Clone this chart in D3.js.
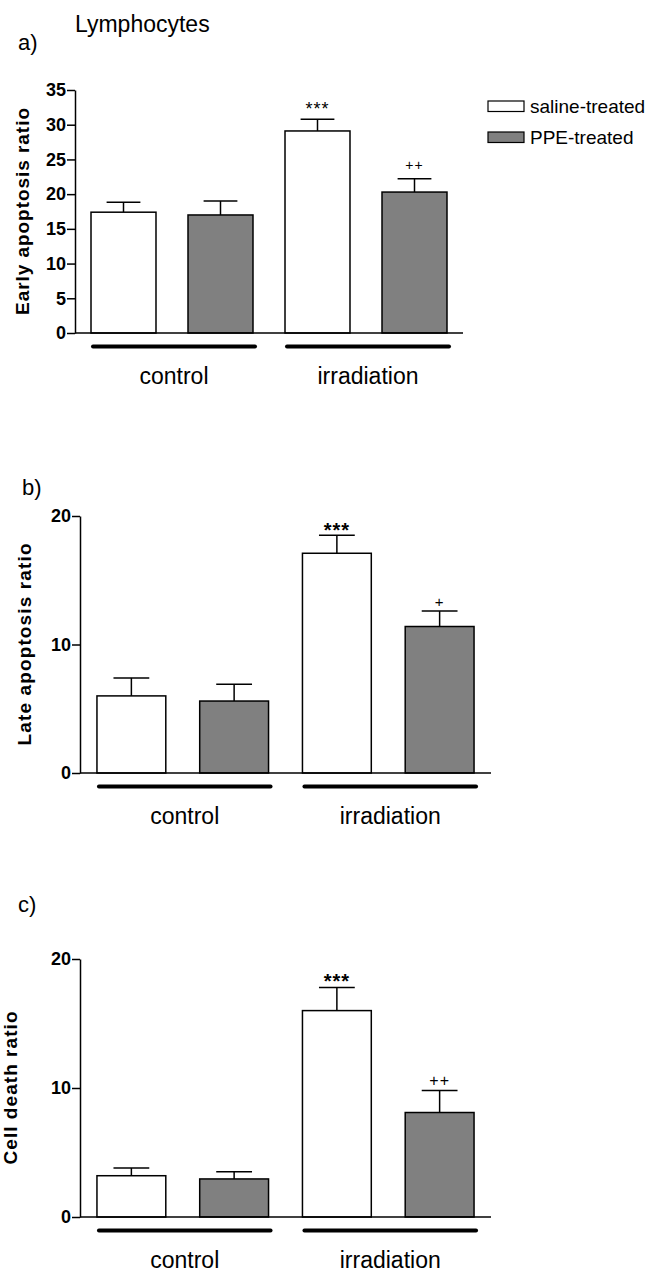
<!DOCTYPE html>
<html>
<head>
<meta charset="utf-8">
<script src="https://cdn.jsdelivr.net/npm/d3@7"></script>
<style>
  body { margin: 0; background: #fff; }
  svg text { font-family: "Liberation Sans", Arial, sans-serif; fill: #000; }
</style>
</head>
<body>
<div id="chart"></div>
<script>
// data
const groups = ["control", "irradiation"];
const treatments = ["saline-treated", "PPE-treated"];
const bars = ["control|saline", "control|PPE", "irradiation|saline", "irradiation|PPE"];

const earlyMean = [17.4, 17.0, 29.1, 20.3];
const earlyErr = [1.45, 2.0, 1.7, 1.9];
const earlySig = ["", "", "***", "++"];
const earlyTicks = [0, 5, 10, 15, 20, 25, 30, 35];

const lateMean = [6.0, 5.6, 17.1, 11.4];
const lateErr = [1.4, 1.3, 1.4, 1.2];
const lateSig = ["", "", "***", "+"];
const lateTicks = [0, 10, 20];

const deathMean = [3.2, 2.95, 16.0, 8.1];
const deathErr = [0.6, 0.55, 1.8, 1.7];
const deathSig = ["", "", "***", "++"];
const deathTicks = [0, 10, 20];

const W = 661, H = 1273;
const fills = ["#ffffff", "#808080"];

const svg = d3.select("#chart").append("svg")
    .attr("width", W)
    .attr("height", H);

svg.append("text")
    .attr("x", 75).attr("y", 32)
    .style("font-size", "23px")
    .text("Lymphocytes");

function drawPanel(p) {
    let g = svg.append("g");

    let y = d3.scaleLinear().domain([0, d3.max(p.ticks)]).range([p.y0, p.y1]);
    let x = d3.scaleBand().domain(bars).range([p.x0, p.x1])
        .paddingInner(0.33).paddingOuter(0.165);
    let bw = x.bandwidth();

    g.append("text")
        .attr("x", p.tagX).attr("y", p.tagY)
        .style("font-size", "22px")
        .text(p.tag);

    // y axis
    let ax = g.append("g")
        .attr("transform", `translate(${p.x0},0)`)
        .call(d3.axisLeft(y).tickValues(p.ticks).tickSize(8).tickSizeOuter(0).tickPadding(1));
    ax.select(".domain").attr("stroke", "#000").attr("stroke-width", 1.5);
    ax.selectAll(".tick line").attr("stroke", "#000").attr("stroke-width", 1.5);
    ax.selectAll(".tick text")
        .style("font-size", "18px")
        .style("font-weight", "bold")
        .attr("fill", "#000");

    g.append("text")
        .attr("transform", `translate(${p.labX},${(p.y0 + p.y1) / 2}) rotate(-90)`)
        .attr("text-anchor", "middle")
        .attr("textLength", p.labLen)
        .attr("lengthAdjust", "spacing")
        .style("font-size", "19px")
        .style("font-weight", "bold")
        .text(p.label);

    // error bars (upper only)
    let err = g.selectAll(".err").data(bars).enter().append("g");
    err.append("line")
        .attr("x1", d => x(d) + bw / 2).attr("x2", d => x(d) + bw / 2)
        .attr("y1", (d, i) => y(p.mean[i]))
        .attr("y2", (d, i) => y(p.mean[i] + p.err[i]))
        .attr("stroke", "#000").attr("stroke-width", 1.5);
    err.append("line")
        .attr("x1", d => x(d) + bw * 0.24).attr("x2", d => x(d) + bw * 0.76)
        .attr("y1", (d, i) => y(p.mean[i] + p.err[i]))
        .attr("y2", (d, i) => y(p.mean[i] + p.err[i]))
        .attr("stroke", "#000").attr("stroke-width", 1.5);

    g.selectAll(".bar").data(bars).enter().append("rect")
        .attr("x", d => x(d))
        .attr("y", (d, i) => y(p.mean[i]))
        .attr("width", bw)
        .attr("height", (d, i) => y(0) - y(p.mean[i]))
        .attr("fill", (d, i) => fills[i % 2])
        .attr("stroke", "#000")
        .attr("stroke-width", 1.5);

    // x baseline
    g.append("line")
        .attr("x1", p.x0).attr("x2", p.x1)
        .attr("y1", y(0)).attr("y2", y(0))
        .attr("stroke", "#000").attr("stroke-width", 1.5);

    // significance marks
    g.selectAll(".sig").data(bars).enter().append("text")
        .attr("x", d => x(d) + bw / 2)
        .attr("y", (d, i) => y(p.mean[i] + p.err[i]) + (p.sig[i] === "***" ? p.starDy : p.plusDy))
        .attr("text-anchor", "middle")
        .style("font-size", (d, i) => p.sig[i] === "***" ? p.starSize : p.plusSize)
        .style("font-weight", (d, i) => p.sig[i] === "***" ? p.starWeight : "normal")
        .style("letter-spacing", "1px")
        .text((d, i) => p.sig[i]);

    // group underlines + labels
    groups.forEach((grp, k) => {
        let first = bars[k * 2], last = bars[k * 2 + 1];
        let gx0 = x(first) + 2, gx1 = x(last) + bw + 2;
        g.append("line")
            .attr("x1", gx0).attr("x2", gx1)
            .attr("y1", y(0) + 13.5).attr("y2", y(0) + 13.5)
            .attr("stroke", "#000").attr("stroke-width", 4)
            .attr("stroke-linecap", "round");
        g.append("text")
            .attr("x", (gx0 + gx1) / 2)
            .attr("y", y(0) + 51)
            .attr("text-anchor", "middle")
            .style("font-size", "23px")
            .text(grp);
    });
}

drawPanel({
    tag: "a)", tagX: 18, tagY: 50,
    label: "Early apoptosis ratio", labX: 29, labLen: 207,
    mean: earlyMean, err: earlyErr, sig: earlySig, ticks: earlyTicks,
    x0: 75, x1: 463, y0: 333, y1: 90,
    starDy: -4, starSize: "18px", starWeight: "normal",
    plusDy: -9, plusSize: "14px"
});

drawPanel({
    tag: "b)", tagX: 22, tagY: 495,
    label: "Late apoptosis ratio", labX: 31, labLen: 202,
    mean: lateMean, err: lateErr, sig: lateSig, ticks: lateTicks,
    x0: 80, x1: 491, y0: 773, y1: 516,
    starDy: 2, starSize: "20px", starWeight: "bold",
    plusDy: -4, plusSize: "15px"
});

drawPanel({
    tag: "c)", tagX: 18, tagY: 912,
    label: "Cell death ratio", labX: 17, labLen: 153,
    mean: deathMean, err: deathErr, sig: deathSig, ticks: deathTicks,
    x0: 80, x1: 491, y0: 1217, y1: 959,
    starDy: 1, starSize: "20px", starWeight: "bold",
    plusDy: -5, plusSize: "16px"
});

// legend
let legend = svg.append("g").attr("transform", "translate(488,101)");
treatments.forEach((t, i) => {
    legend.append("rect")
        .attr("x", 0).attr("y", i * 31)
        .attr("width", 36).attr("height", 10.5)
        .attr("fill", fills[i])
        .attr("stroke", "#000").attr("stroke-width", 1.2);
    legend.append("text")
        .attr("x", 42).attr("y", i * 31 + 12)
        .style("font-size", "19px")
        .text(t);
});
</script>
</body>
</html>
